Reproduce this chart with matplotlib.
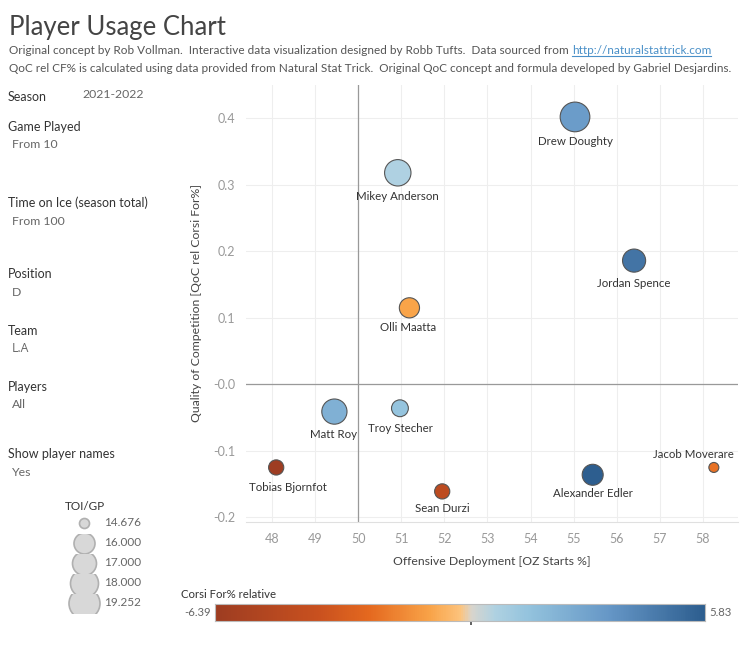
import numpy as np
import matplotlib
matplotlib.use("Agg")
import matplotlib.pyplot as plt
from matplotlib.colors import LinearSegmentedColormap, TwoSlopeNorm
from matplotlib.lines import Line2D
from matplotlib.patches import Rectangle

plt.rcParams['font.family'] = ['Lato', 'DejaVu Sans']

# data------------------------------------------------------------------------#
players = ['Drew Doughty', 'Mikey Anderson', 'Jordan Spence', 'Olli Maatta',
           'Matt Roy', 'Troy Stecher', 'Tobias Bjornfot', 'Sean Durzi',
           'Alexander Edler', 'Jacob Moverare']
oz_starts = [55.03, 50.92, 56.40, 51.19, 49.45, 50.97, 48.10, 51.95, 55.44, 58.25]
qoc = [0.402, 0.318, 0.186, 0.115, -0.041, -0.036, -0.125, -0.161, -0.136, -0.125]
toi_gp = [18.7, 17.6, 16.7, 15.9, 17.3, 15.5, 15.3, 15.3, 16.0, 14.676]
corsi_rel = [3.2, 0.6, 4.9, -1.0, 2.3, 1.4, -6.39, -4.6, 5.83, -2.3]

size_legend_vals = [14.676, 16.0, 17.0, 18.0, 19.252]
size_legend_labels = ['14.676', '16.000', '17.000', '18.000', '19.252']
corsi_min, corsi_max = -6.39, 5.83

x_ticks = [48, 49, 50, 51, 52, 53, 54, 55, 56, 57, 58]
y_ticks = [0.4, 0.3, 0.2, 0.1, 0.0, -0.1, -0.2]
y_tick_labels = ['0.4', '0.3', '0.2', '0.1', '-0.0', '-0.1', '-0.2']

filters = [('Season', None), ('Game Played', 'From 10'),
           ('Time on Ice (season total)', 'From 100'), ('Position', 'D'),
           ('Team', 'L.A'), ('Players', 'All'), ('Show player names', 'Yes')]

# style-----------------------------------------------------------------------#
W, H = 741, 648
legend_diam = [10, 21, 24, 28, 31]   # px diameters used for the size legend
cmap = LinearSegmentedColormap.from_list('orbl', [
    (0.0, '#9e3d22'), (0.2, '#c9511f'), (0.3, '#e5691f'), (0.42, '#f9a449'),
    (0.48, '#fdc47e'), (0.5, '#d9d5cd'), (0.55, '#b0d2e2'), (0.62, '#95c4de'),
    (0.8, '#6596c6'), (1.0, '#2d5e8f')])
norm = TwoSlopeNorm(vmin=corsi_min, vcenter=0, vmax=corsi_max)

# label offsets in px (dx, dy) relative to point centre
label_off = {'Drew Doughty': (0, -25), 'Mikey Anderson': (0, -24),
             'Jordan Spence': (0, -23), 'Olli Maatta': (-1, -20),
             'Matt Roy': (-1, -23), 'Troy Stecher': (0, -20),
             'Tobias Bjornfot': (12, -20), 'Sean Durzi': (0, -17),
             'Alexander Edler': (0, -19), 'Jacob Moverare': (-20, 13)}


def diam(v):
    return np.interp(v, size_legend_vals, legend_diam)


def fx(x):
    return x / W


def fy(y):
    return 1 - y / H


fig = plt.figure(figsize=(W / 100, H / 100), dpi=100)

# header----------------------------------------------------------------------#
fig.text(fx(9), fy(27), 'Player Usage Chart', fontsize=18.5, color='#444444',
         va='center')
sub1 = fig.text(fx(9), fy(51), 'Original concept by Rob Vollman.  Interactive data '
                'visualization designed by Robb Tufts.  Data sourced from ',
                fontsize=8.5, color='#555555', va='center')
fig.text(fx(9), fy(68), 'QoC rel CF% is calculated using data provided from Natural '
         'Stat Trick.  Original QoC concept and formula developed by Gabriel Desjardins.',
         fontsize=8.5, color='#555555', va='center')

# filters panel---------------------------------------------------------------#
head_y = [97, 127, 203, 274, 331, 387, 454]
for (name, val), yy in zip(filters, head_y):
    fig.text(fx(8), fy(yy), name, fontsize=9, color='#333333', va='center')
    if val is not None:
        fig.text(fx(12), fy(yy + 18), val, fontsize=8.8, color='#666666', va='center',
                 family=['Open Sans', 'DejaVu Sans'] if val == 'L.A' else None)
fig.text(fx(82), fy(94), '2021-2022', fontsize=8.8, color='#666666', va='center')

# main scatter----------------------------------------------------------------#
ax = fig.add_axes([fx(246), fy(522), fx(738) - fx(246), fy(85) - fy(522)])
ax.set_xlim(47.4, 58.81)
ax.set_ylim(-0.207, 0.45)
ax.set_xticks(x_ticks)
ax.set_yticks(y_ticks)
ax.set_yticklabels(y_tick_labels)
ax.grid(True, color='#eeeeee', linewidth=0.8)
ax.set_axisbelow(True)
for s in ['top', 'right', 'left']:
    ax.spines[s].set_visible(False)
ax.spines['bottom'].set_color('#e0e0e0')
ax.tick_params(length=0, labelsize=9, colors='#999999', pad=8)
ax.axvline(50, color='#999999', linewidth=0.9, zorder=1)
ax.axhline(0, color='#999999', linewidth=0.9, zorder=1)

sizes = (diam(np.array(toi_gp)) * 0.72) ** 2
ax.scatter(oz_starts, qoc, s=sizes, c=corsi_rel, cmap=cmap, norm=norm,
           edgecolors='#555555', linewidths=0.8, zorder=3)
for name, x, y in zip(players, oz_starts, qoc):
    dx, dy = label_off[name]
    ax.annotate(name, (x, y), xytext=(dx, dy), textcoords='offset pixels',
                ha='center', va='center', fontsize=8.3, color='#333333', zorder=4)

ax.set_xlabel('Offensive Deployment [OZ Starts %]', fontsize=8.8, color='#444444',
              labelpad=8)
ax.set_ylabel('Quality of Competition [QoC rel Corsi For%]', fontsize=8.8,
              color='#444444', labelpad=8)

# size legend-----------------------------------------------------------------#
lg = fig.add_axes([0, 0, 1, 1], zorder=-1)
lg.set_xlim(0, W)
lg.set_ylim(H, 0)
lg.axis('off')
lg.text(85, 506, 'TOI/GP', fontsize=8.5, color='#333333', ha='center', va='center')
for i, (v, lab) in enumerate(zip(size_legend_vals, size_legend_labels)):
    yy = 523 + 20 * i
    band = Rectangle((60, yy - 9.5), 50, 19, transform=lg.transData)
    sc = lg.scatter([84], [yy], s=(diam(v) * 0.72) ** 2, color='#d8d8d8',
                    edgecolors='#b0b0b0', linewidths=1.2, zorder=2)
    sc.set_clip_path(band)
    lg.text(104, yy, lab, fontsize=8.5, color='#666666', va='center')

# colour legend---------------------------------------------------------------#
fig.text(fx(181), fy(595), 'Corsi For% relative', fontsize=8.2, color='#333333',
         va='center')
cax = fig.add_axes([fx(215), fy(621), fx(705) - fx(215), fy(604) - fy(621)])
grad = np.linspace(corsi_min, corsi_max, 512)[None, :]
cax.imshow(grad, aspect='auto', cmap=cmap, norm=norm,
           extent=[corsi_min, corsi_max, 0, 1])
cax.set_xticks([0])
cax.set_yticks([])
cax.tick_params(axis='x', length=3, width=1.2, colors='#444444', labelbottom=False)
for s in cax.spines.values():
    s.set_color('#bbbbbb')
fig.text(fx(211), fy(613), '%.2f' % corsi_min, fontsize=8.2, color='#666666',
         ha='right', va='center')
fig.text(fx(709), fy(613), '%.2f' % corsi_max, fontsize=8.2, color='#666666',
         va='center')

# url with underline----------------------------------------------------------#
fig.canvas.draw()
r = fig.canvas.get_renderer()
bb = sub1.get_window_extent(r)
url = fig.text(bb.x1 / W, fy(51), 'http://naturalstattrick.com', fontsize=8.5,
               color='#4a90c8', va='center')
ub = url.get_window_extent(r)
fig.add_artist(Line2D([ub.x0 / W, ub.x1 / W], [(ub.y0 + 1) / H] * 2,
                      color='#4a90c8', linewidth=0.8))

fig.savefig('out.png', dpi=100)
